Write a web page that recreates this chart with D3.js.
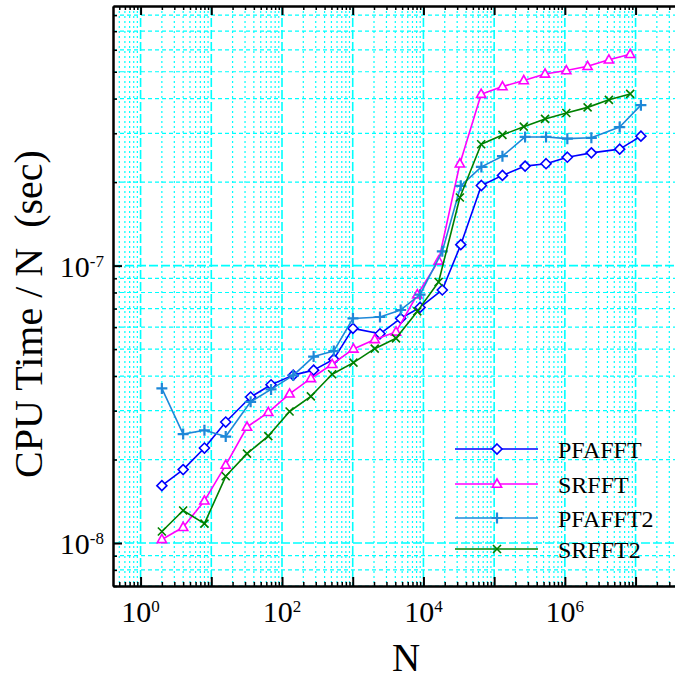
<!DOCTYPE html>
<html>
<head>
<meta charset="utf-8">
<script src="https://cdn.jsdelivr.net/npm/d3@7"></script>
<style>
  body { margin: 0; background: #fff; }
  svg { display: block; }
  text { font-family: "Liberation Serif", "Times New Roman", Times, serif; fill: #000; }
</style>
</head>
<body>
<div id="chart"></div>
<script>
// ---- data ----
const seriesNames = ["PFAFFT", "SRFFT", "PFAFFT2", "SRFFT2"];

// transform sizes (PFA sizes are not powers of two)
const pfaSizes = [2, 4, 8, 16, 36, 70, 144, 280, 540, 1008, 2430, 4770, 8960, 18480,
  33750, 66000, 131000, 274000, 542000, 1084000, 2370000, 5960000, 11900000];
const pow2Sizes = [2, 4, 8, 16, 32, 64, 128, 256, 512, 1024, 2048, 4096, 8192, 16384,
  32768, 65536, 131072, 262144, 524288, 1048576, 2097152, 4194304, 8388608];

// CPU time / N (sec)
const pfafft = [1.61e-8, 1.84e-8, 2.2e-8, 2.73e-8, 3.36e-8, 3.72e-8, 4.03e-8, 4.2e-8, 4.6e-8,
  5.94e-8, 5.68e-8, 6.45e-8, 7.07e-8, 8.17e-8, 1.19e-7, 1.945e-7, 2.115e-7, 2.285e-7,
  2.33e-7, 2.46e-7, 2.55e-7, 2.63e-7, 2.93e-7];
const srfft = [1.03e-8, 1.14e-8, 1.42e-8, 1.91e-8, 2.62e-8, 2.96e-8, 3.45e-8, 3.92e-8, 4.41e-8,
  5.01e-8, 5.42e-8, 5.77e-8, 7.86e-8, 1.04e-7, 2.33e-7, 4.15e-7, 4.42e-7, 4.65e-7,
  4.91e-7, 5.05e-7, 5.23e-7, 5.52e-7, 5.78e-7];
const pfafft2 = [3.61e-8, 2.47e-8, 2.55e-8, 2.42e-8, 3.23e-8, 3.58e-8, 4.02e-8, 4.7e-8, 4.92e-8,
  6.45e-8, 6.53e-8, 6.92e-8, 7.86e-8, 1.126e-7, 1.94e-7, 2.27e-7, 2.48e-7, 2.91e-7,
  2.91e-7, 2.87e-7, 2.89e-7, 3.16e-7, 3.79e-7];
const srfft2 = [1.10e-8, 1.31e-8, 1.175e-8, 1.74e-8, 2.1e-8, 2.43e-8, 2.98e-8, 3.38e-8, 4.06e-8,
  4.47e-8, 5.02e-8, 5.47e-8, 6.84e-8, 8.73e-8, 1.76e-7, 2.74e-7, 2.96e-7, 3.17e-7,
  3.38e-7, 3.55e-7, 3.72e-7, 3.96e-7, 4.16e-7];

// labelled decades
const xLabelExps = [0, 2, 4, 6];
const yLabelExps = [-8, -7];

// ---- layout ----
const W = 675, H = 680;
const plotLeft = 113, plotRight = 678, plotTop = 6, plotBottom = 586;

const series = [
  { name: seriesNames[0], n: pfaSizes,  v: pfafft,  color: "#0000ff", marker: "diamond" },
  { name: seriesNames[1], n: pow2Sizes, v: srfft,   color: "#ff00ff", marker: "triangle" },
  { name: seriesNames[2], n: pfaSizes,  v: pfafft2, color: "#1e88d8", marker: "plus" },
  { name: seriesNames[3], n: pow2Sizes, v: srfft2,  color: "#008000", marker: "cross" }
];

const svg = d3.select("#chart").append("svg")
  .attr("width", W)
  .attr("height", H);

svg.append("rect").attr("width", W).attr("height", H).attr("fill", "#fff");

const x = d3.scaleLog()
  .domain([Math.pow(10, -0.39), Math.pow(10, 7.6)])
  .range([plotLeft, plotRight]);
const y = d3.scaleLog()
  .domain([7e-9, 8.63e-7])
  .range([plotBottom, plotTop]);

// all 1..9 x 10^k ticks inside a log domain
function logTicks(scale) {
  const [a, b] = scale.domain();
  const out = [];
  for (let e = Math.floor(Math.log10(a)); e <= Math.ceil(Math.log10(b)); e++) {
    for (let k = 1; k <= 9; k++) {
      const v = k * Math.pow(10, e);
      if (v >= a * 0.999 && v <= b * 1.001) out.push({ v: v, major: k === 1 });
    }
  }
  return out;
}
const xt = logTicks(x), yt = logTicks(y);

// grid
const grid = svg.append("g").attr("class", "grid");
grid.selectAll("line.gx").data(xt).enter().append("line")
  .attr("x1", d => x(d.v)).attr("x2", d => x(d.v))
  .attr("y1", plotTop).attr("y2", plotBottom)
  .attr("stroke", "#00ffff")
  .attr("stroke-width", d => d.major ? 1.6 : 1.2)
  .attr("stroke-dasharray", d => d.major ? "9,3" : "2,3");
grid.selectAll("line.gy").data(yt).enter().append("line")
  .attr("y1", d => y(d.v)).attr("y2", d => y(d.v))
  .attr("x1", plotLeft).attr("x2", plotRight)
  .attr("stroke", "#00ffff")
  .attr("stroke-width", d => d.major ? 1.6 : 1.2)
  .attr("stroke-dasharray", d => d.major ? "9,3" : "4,3");

// axes: major and minor ticks pointing inwards
function styleAxis(g, w) {
  g.selectAll("path.domain").attr("stroke", "#000").attr("stroke-width", 2);
  g.selectAll(".tick line").attr("stroke", "#000").attr("stroke-width", w);
}
const xMaj = xt.filter(d => d.major).map(d => d.v), xMin = xt.filter(d => !d.major).map(d => d.v);
const yMaj = yt.filter(d => d.major).map(d => d.v), yMin = yt.filter(d => !d.major).map(d => d.v);

[[d3.axisBottom, plotBottom], [d3.axisTop, plotTop]].forEach(function (a) {
  svg.append("g").attr("transform", "translate(0," + a[1] + ")")
    .call(a[0](x).tickValues(xMin).tickSizeInner(-4).tickSizeOuter(0).tickFormat(""))
    .call(g => styleAxis(g, 1.5));
  svg.append("g").attr("transform", "translate(0," + a[1] + ")")
    .call(a[0](x).tickValues(xMaj).tickSizeInner(-9).tickSizeOuter(0).tickFormat(""))
    .call(g => styleAxis(g, 2));
});
svg.append("g").attr("transform", "translate(" + plotLeft + ",0)")
  .call(d3.axisLeft(y).tickValues(yMin).tickSizeInner(-4).tickSizeOuter(0).tickFormat(""))
  .call(g => styleAxis(g, 1.5));
svg.append("g").attr("transform", "translate(" + plotLeft + ",0)")
  .call(d3.axisLeft(y).tickValues(yMaj).tickSizeInner(-9).tickSizeOuter(0).tickFormat(""))
  .call(g => styleAxis(g, 2));

// tick labels with superscript exponents
xLabelExps.forEach(function (e) {
  const t = svg.append("text")
    .attr("x", x(Math.pow(10, e)))
    .attr("y", 622)
    .attr("text-anchor", "middle")
    .style("font-size", "30px");
  t.append("tspan").text("10");
  t.append("tspan").attr("dy", -10).style("font-size", "17px").text(e);
});
yLabelExps.forEach(function (e) {
  const t = svg.append("text")
    .attr("x", 104)
    .attr("y", y(Math.pow(10, e)) + 11)
    .attr("text-anchor", "end")
    .style("font-size", "30px");
  t.append("tspan").text("10");
  t.append("tspan").attr("dy", -10).style("font-size", "17px").text(e);
});

// axis titles
svg.append("text")
  .attr("x", 406).attr("y", 671)
  .attr("text-anchor", "middle")
  .style("font-size", "39px")
  .text("N");
svg.append("text")
  .attr("transform", "rotate(-90)")
  .attr("x", -314).attr("y", 42)
  .attr("text-anchor", "middle")
  .style("font-size", "40px")
  .style("white-space", "pre")
  .text("CPU Time / N  (sec)");

// markers
function markerPath(type) {
  if (type === "diamond") return "M0,-5L5,0L0,5L-5,0Z";
  if (type === "triangle") return "M0,-5L4.6,3.2L-4.6,3.2Z";
  if (type === "plus") return "M-5.5,0H5.5M0,-5.5V5.5";
  return "M-4,-4L4,4M-4,4L4,-4";
}

const line = d3.line()
  .x(d => x(d[0]))
  .y(d => y(d[1]));

series.forEach(function (s) {
  const pts = s.n.map((n, i) => [n, s.v[i]]);
  const g = svg.append("g").attr("class", "series");
  g.append("path")
    .attr("d", line(pts))
    .attr("fill", "none")
    .attr("stroke", s.color)
    .attr("stroke-width", 1.6)
    .attr("stroke-linejoin", "round");
  g.selectAll("path.m").data(pts).enter().append("path")
    .attr("class", "m")
    .attr("transform", d => "translate(" + x(d[0]) + "," + y(d[1]) + ")")
    .attr("d", markerPath(s.marker))
    .attr("fill", (s.marker === "diamond" || s.marker === "triangle") ? "#fff" : "none")
    .attr("stroke", s.color)
    .attr("stroke-width", s.marker === "plus" ? 2.2 : 1.6);
});

// legend
const legendRows = [449, 484, 518, 549];
const legend = svg.append("g").attr("class", "legend");
series.forEach(function (s, i) {
  const ly = legendRows[i];
  legend.append("line")
    .attr("x1", 455).attr("x2", 538)
    .attr("y1", ly).attr("y2", ly)
    .attr("stroke", s.color).attr("stroke-width", 1.6);
  legend.append("path")
    .attr("transform", "translate(497," + ly + ")")
    .attr("d", markerPath(s.marker))
    .attr("fill", (s.marker === "diamond" || s.marker === "triangle") ? "#fff" : "none")
    .attr("stroke", s.color)
    .attr("stroke-width", s.marker === "plus" ? 2.2 : 1.6);
  legend.append("text")
    .attr("x", 558).attr("y", ly + 9)
    .style("font-size", "24px")
    .text(s.name);
});
</script>
</body>
</html>
